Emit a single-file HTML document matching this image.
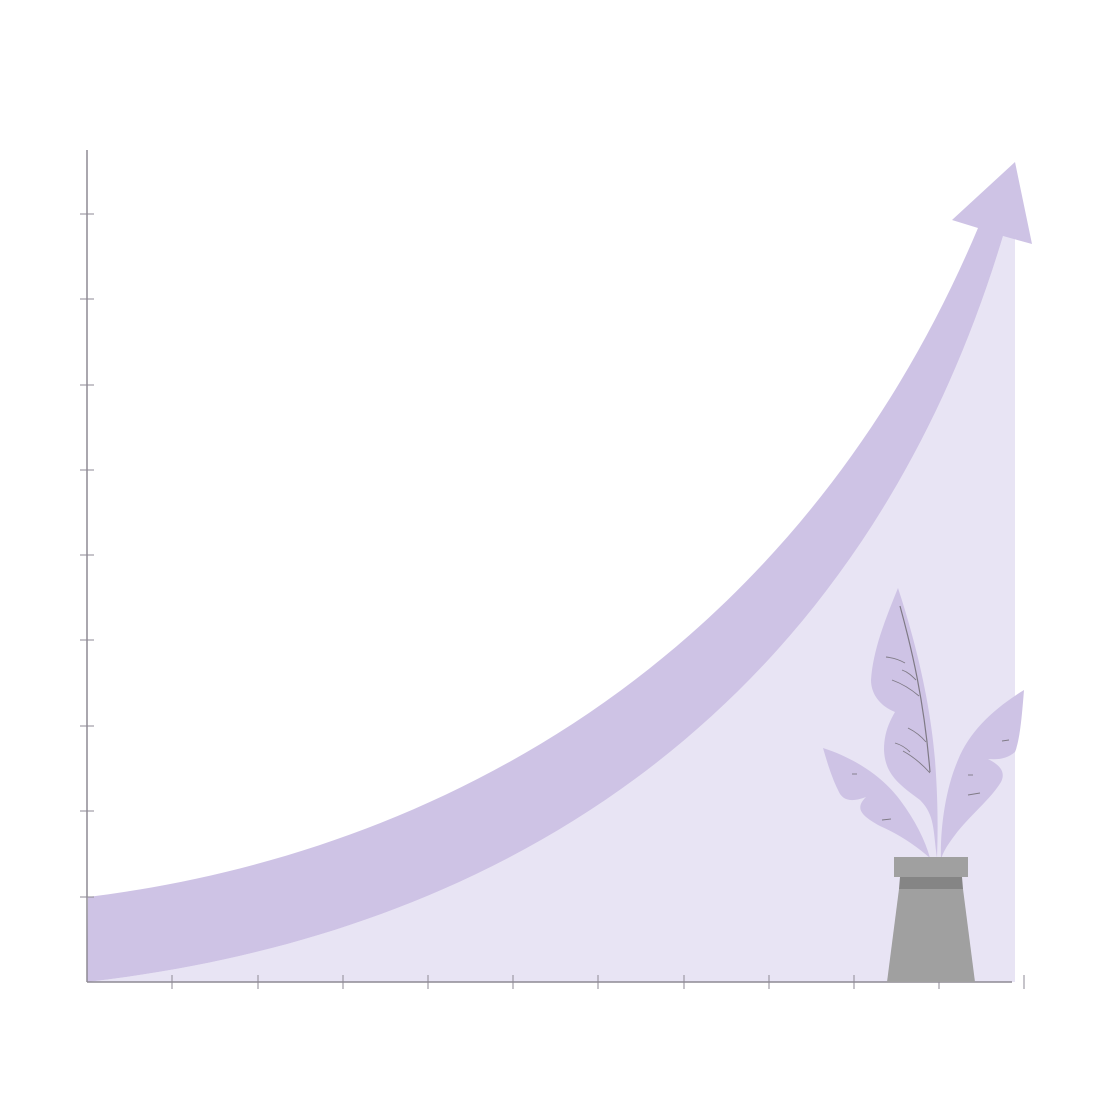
<!DOCTYPE html>
<html><head><meta charset="utf-8"><style>html,body{margin:0;padding:0;background:#fff;width:1120px;height:1120px;overflow:hidden}</style></head>
<body>
<svg id="chart" width="1120" height="1120" viewBox="0 0 1120 1120" xmlns="http://www.w3.org/2000/svg">
<path d="M87,982 C540,930 870,680 1003,236 L1015,238 L1015,982 Z" fill="#e8e4f4"/>
<path d="M88,897 C450,852 800,650 978,228 L952,220 L1015,162 L1032,244 L1003,236 C870,680 540,930 87,982 Z" fill="#cec3e5"/>
<line x1="87" y1="150" x2="87" y2="982" stroke="#8e8a94" stroke-width="1.5"/>
<line x1="87" y1="982" x2="1012" y2="982" stroke="#8e8a94" stroke-width="1.5"/>
<g id="ticks"></g>
<g>
<path d="M823,748 C860,760 885,780 900,800 C915,820 925,840 930,858 C915,845 900,835 880,826 C860,815 855,808 866,797 C850,803 842,800 838,790 C832,778 827,762 823,748 Z" fill="#cec3e5"/>
<path d="M898,588 C915,640 930,700 935,760 C938,800 938,830 937,858 C933,830 935,815 920,800 C900,785 885,775 884,750 C884,735 888,724 895,712 C880,706 871,694 871,680 C873,650 885,620 898,588 Z" fill="#cec3e5"/>
<path d="M1024,690 C1022,715 1020,740 1015,752 C1008,758 1000,760 988,759 C1000,765 1006,772 1001,782 C990,800 970,815 955,835 C945,848 942,855 941,860 C940,830 945,790 958,760 C970,730 995,708 1024,690 Z" fill="#cec3e5"/>
<path d="M900,606 C912,650 924,700 930,772" fill="none" stroke="#7f7a85" stroke-width="1.2"/>
<g stroke="#7f7a85" stroke-width="0.9" fill="none">
<path d="M886,657 C895,658 900,660 905,663"/><path d="M902,670 C908,672 912,676 916,680"/><path d="M892,680 C903,684 912,690 919,696"/>
<path d="M908,728 C916,732 921,736 926,742"/><path d="M895,743 C902,745 906,748 910,752"/><path d="M903,751 C912,756 922,764 930,773"/>
<path d="M852,774 L857,774"/><path d="M882,820 L891,819"/><path d="M968,775 L973,775"/><path d="M968,795 L980,793"/><path d="M1002,741 L1009,740"/>
</g>
<rect x="894" y="857" width="74" height="20" fill="#a0a0a0"/>
<polygon points="900,877 962,877 963,889 899,889" fill="#858585"/>
<polygon points="899,889 963,889 975,982 887,982" fill="#a0a0a0"/>
</g>
</svg>
<script>
const yTicks = [214,299,385,470,555,640,726,811,897];
const xTicks = [172,258,343,428,513,598,684,769,854,939,1024];
const g = document.getElementById('ticks');
const ns = 'http://www.w3.org/2000/svg';
yTicks.forEach(y => {
  const l = document.createElementNS(ns,'line');
  l.setAttribute('x1',80);l.setAttribute('x2',94);l.setAttribute('y1',y);l.setAttribute('y2',y);
  l.setAttribute('stroke','#8e8a94');l.setAttribute('stroke-width','1');
  
  
  g.appendChild(l);
});
xTicks.forEach(x => {
  const l = document.createElementNS(ns,'line');
  l.setAttribute('x1',x);l.setAttribute('x2',x);l.setAttribute('y1',975);l.setAttribute('y2',989);
  l.setAttribute('stroke','#8e8a94');l.setAttribute('stroke-width','1');
  
  
  g.appendChild(l);
});
</script>
</body></html>
